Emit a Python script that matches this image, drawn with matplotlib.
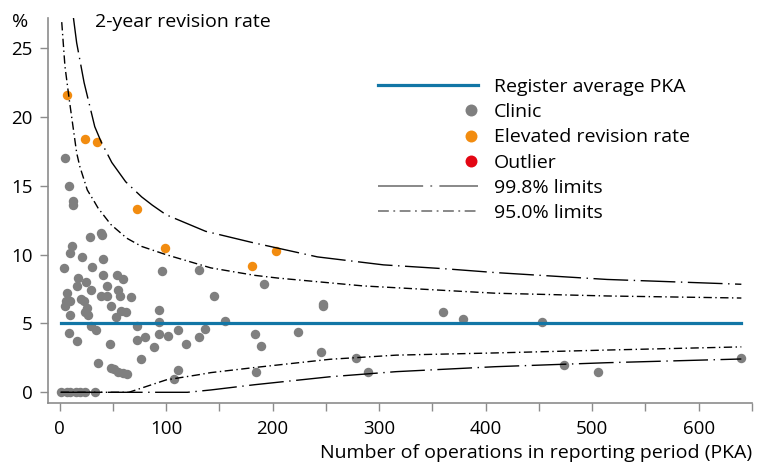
import numpy as np
import matplotlib
matplotlib.use("Agg")
import matplotlib.pyplot as plt
from matplotlib.lines import Line2D
from matplotlib.legend_handler import HandlerLine2D

plt.rcParams['font.family'] = ['Open Sans', 'DejaVu Sans']

# clinics (operations, revision rate %)
clinic_x = [4.7, 8.4, 13.0, 13.0, 28.8, 39.1, 40.0, 11.2, 9.3, 21.4, 40.9, 3.7, 30.7, 40.9,
            54.0, 59.5, 17.7, 16.7, 25.1, 29.8, 44.7, 7.4, 5.6, 10.2, 4.7, 20.5, 23.3, 26.0,
            39.1, 44.7, 54.9, 56.7, 67.0, 48.4, 9.3, 24.2, 27.0, 57.7, 62.3, 53.0, 29.8, 34.4,
            8.4, 16.7, 47.4, 72.6, 72.6, 76.3, 36.3, 48.4, 51.2, 54.9, 59.5, 63.3, 80.0, 88.4,
            93.0, 93.0, 93.0, 101.4, 95.8, 110.7, 119.1, 110.7, 107.0, 131.2, 131.2, 136.7,
            145.1, 155.3, 183.3, 188.8, 184.2, 191.6, 224.2, 247.4, 247.4, 245.6, 278.1, 289.3,
            360.0, 378.6, 453.0, 473.5, 505.1, 640.0,
            1, 6.5, 10, 15, 19.5, 24, 33]
clinic_y = [17.0, 15.0, 13.9, 13.6, 11.3, 11.6, 11.4, 10.6, 10.1, 9.8, 9.7, 9.0, 9.1, 8.5,
            8.5, 8.2, 8.3, 7.7, 8.0, 7.4, 7.7, 7.2, 6.6, 6.6, 6.3, 6.8, 6.6, 6.1,
            7.0, 7.0, 7.4, 7.0, 6.9, 6.3, 5.6, 5.8, 5.6, 5.9, 5.8, 5.5, 4.8, 4.5,
            4.3, 3.7, 3.5, 3.8, 4.8, 2.4, 2.1, 1.8, 1.7, 1.5, 1.4, 1.3, 4.0, 3.3,
            6.0, 5.1, 4.2, 4.1, 8.8, 4.5, 3.5, 1.6, 1.0, 8.9, 4.0, 4.6,
            7.0, 5.2, 4.2, 3.4, 1.5, 7.9, 4.4, 6.4, 6.3, 2.9, 2.5, 1.5,
            5.8, 5.3, 5.1, 2.0, 1.5, 2.5,
            0, 0, 0, 0, 0, 0, 0]

elev_x = [7.4, 24.2, 35.3, 72.6, 98.6, 180.5, 202.8]
elev_y = [21.6, 18.4, 18.2, 13.3, 10.5, 9.2, 10.3]

outlier_x = []
outlier_y = []

avg_x = [1, 640]
avg_y = [5.0, 5.0]

# funnel limits
up998_x = [13, 16, 23, 33, 39, 49, 62, 77, 87, 100, 137, 180, 242, 304, 363, 409, 514, 640]
up998_y = [27.2, 25.4, 22.5, 19.3, 18.2, 16.7, 15.3, 14.2, 13.6, 12.9, 11.7, 10.9, 9.84, 9.26,
           8.97, 8.7, 8.2, 7.85]
up95_x = [2, 5, 9, 16, 19, 26, 33, 36, 48, 63, 77, 100, 142, 183, 205, 285, 409, 514, 640]
up95_y = [26.9, 23.7, 21.3, 17.4, 16.4, 14.7, 13.8, 13.4, 12.2, 11.2, 10.6, 10.0, 9.04, 8.5,
          8.3, 7.73, 7.2, 7.0, 6.85]
lo95_x = [1, 65, 100, 130, 142, 183, 254, 316, 409, 514, 640]
lo95_y = [0, 0, 0.9, 1.27, 1.43, 1.8, 2.4, 2.7, 2.86, 3.07, 3.3]
lo998_x = [1, 120, 142, 183, 254, 316, 409, 514, 640]
lo998_y = [0, 0, 0.17, 0.55, 1.13, 1.5, 1.86, 2.15, 2.42]

blue = '#1276a6'
gray = '#7f7f7f'
orange = '#f28c10'
red = '#e30613'
axcol = '#8c8c8c'
d998 = (25, 4, 1, 4)
d95 = (6, 2.5, 1, 2.5)
fs = 14

fig = plt.figure(figsize=(7.58, 4.63), dpi=100)
ax = fig.add_axes([48 / 758, 1 - 403.3 / 463, 704 / 758, 385.3 / 463])

ax.plot(clinic_x, clinic_y, 'o', color=gray, ms=6.8, mec='none', zorder=2)
ax.plot(elev_x, elev_y, 'o', color=orange, ms=6.8, mec='none', zorder=2)
ax.plot(outlier_x, outlier_y, 'o', color=red, ms=6.8, mec='none', zorder=2)
ax.plot(avg_x, avg_y, '-', color=blue, lw=2.3, zorder=3)
ax.plot(up998_x, up998_y, color='black', lw=1.0, dashes=d998, zorder=4)
ax.plot(lo998_x, lo998_y, color='black', lw=1.0, dashes=d998, zorder=4)
ax.plot(up95_x, up95_y, color='black', lw=1.0, dashes=d95, zorder=4)
ax.plot(lo95_x, lo95_y, color='black', lw=1.0, dashes=d95, zorder=4)

ax.set_xlim(-10.9, 644)
ax.set_ylim(-0.8, 27.2)
ax.set_xticks(range(0, 601, 100))
ax.set_xticks(range(50, 651, 100), minor=True)
ax.set_yticks(range(0, 26, 5))
for s in ['top', 'right']:
    ax.spines[s].set_visible(False)
for s in ['left', 'bottom']:
    ax.spines[s].set_color(axcol)
    ax.spines[s].set_linewidth(1.2)
ax.tick_params(which='both', color=axcol, length=6, width=1, labelsize=13.5)
ax.tick_params(axis='x', pad=6)
ax.tick_params(axis='y', pad=5)

ax.set_xlabel('Number of operations in reporting period (PKA)', fontsize=fs, loc='right', labelpad=4)
fig.text(20 / 758, 1 - 22 / 463, '%', fontsize=fs, ha='center', va='center')
fig.text(95 / 758, 1 - 22 / 463, '2-year revision rate', fontsize=fs, ha='left', va='center')


class RightMarker(HandlerLine2D):
    # put the single legend marker at the right end of the handle
    def get_xdata(self, legend, xdescent, ydescent, width, height, fontsize):
        xm = width - xdescent - 0.36 * fontsize
        return np.array([xm - 0.1, xm + 0.1]), np.array([xm])


h_avg = Line2D([], [], color=blue, lw=2.3)
h_cl = Line2D([], [], ls='none', marker='o', color=gray, ms=8.6, mec='none')
h_el = Line2D([], [], ls='none', marker='o', color=orange, ms=8.6, mec='none')
h_out = Line2D([], [], ls='none', marker='o', color=red, ms=8.6, mec='none')
h_998 = Line2D([], [], color=gray, lw=1.3, dashes=d998)
h_95 = Line2D([], [], color=gray, lw=1.3, dashes=d95)
hm = {h: RightMarker(numpoints=1) for h in [h_cl, h_el, h_out]}
leg = fig.legend([h_avg, h_cl, h_el, h_out, h_998, h_95],
                 ['Register average PKA', 'Clinic', 'Elevated revision rate', 'Outlier',
                  '99.8% limits', '95.0% limits'],
                 handler_map=hm, loc='upper left', bbox_to_anchor=(378 / 758, 1 - 78 / 463),
                 frameon=False, fontsize=fs, handlelength=5.15, handletextpad=0.8,
                 labelspacing=0.37, borderpad=0, borderaxespad=0)

fig.savefig('out.png', dpi=100)
